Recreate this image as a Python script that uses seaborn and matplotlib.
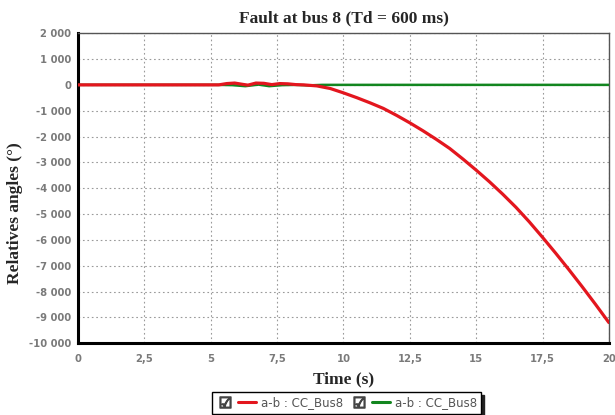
import matplotlib
matplotlib.use("Agg")
import matplotlib.pyplot as plt
from matplotlib.lines import Line2D
from matplotlib.legend_handler import HandlerTuple
import seaborn as sns
import pandas as pd

# Relative rotor angle a-b (deg) for the two simulation cases, fault at bus 8
time_red = [0, 5.3, 5.6, 5.9, 6.2, 6.4, 6.7, 7.0, 7.3, 7.6, 7.9, 8.2, 8.5,
            9.0, 9.5, 10.0, 10.5, 11.0, 11.5, 12.0, 12.5, 13.0, 13.5, 14.0,
            14.5, 15.0, 15.5, 16.0, 16.5, 17.0, 17.5, 18.0, 18.5, 19.0,
            19.5, 20.0]
angle_red = [0, 0, 50, 70, 20, -10, 70, 60, 10, 50, 40, 10, 0,
             -40, -140, -310, -495, -695, -910, -1180, -1470, -1780, -2110,
             -2460, -2870, -3300, -3750, -4230, -4740, -5300, -5900, -6520,
             -7160, -7820, -8500, -9200]

time_green = [0, 5.3, 5.8, 6.3, 6.8, 7.2, 7.7, 8.2, 8.7, 9.2, 20.0]
angle_green = [0, 0, -10, -50, 10, -50, -10, 0, -20, 0, 0]

x_ticks = [0, 2.5, 5, 7.5, 10, 12.5, 15, 17.5, 20]
x_tick_labels = ["0", "2,5", "5", "7,5", "10", "12,5", "15", "17,5", "20"]
y_ticks = [2000, 1000, 0, -1000, -2000, -3000, -4000, -5000, -6000,
           -7000, -8000, -9000, -10000]
y_tick_labels = ["2 000", "1 000", "0", "-1 000", "-2 000", "-3 000",
                 "-4 000", "-5 000", "-6 000", "-7 000", "-8 000",
                 "-9 000", "-10 000"]

series_label = "a-b : CC_Bus8"
red = "#e3161e"
green = "#12861f"

sns.set_style("white")
plt.rcParams["font.family"] = ["DejaVu Sans"]

fig = plt.figure(figsize=(6.15, 4.15), dpi=100)
ax = fig.add_axes([0.127, 0.173, 0.863, 0.747])

df_red = pd.DataFrame({"t": time_red, "angle": angle_red})
df_green = pd.DataFrame({"t": time_green, "angle": angle_green})

sns.lineplot(data=df_green, x="t", y="angle", ax=ax, color=green,
             linewidth=1.8, zorder=3)
sns.lineplot(data=df_red, x="t", y="angle", ax=ax, color=red,
             linewidth=2.3, zorder=4)

ax.set_xlim(0, 20)
ax.set_ylim(-10000, 2000)
ax.set_xticks(x_ticks)
ax.set_xticklabels(x_tick_labels)
ax.set_yticks(y_ticks)
ax.set_yticklabels(y_tick_labels)
ax.tick_params(axis="both", labelsize=7.2, labelcolor="#7a7a7a", length=0)
ax.tick_params(axis="y", pad=5)
ax.tick_params(axis="x", pad=8)
for lab in ax.get_xticklabels() + ax.get_yticklabels():
    lab.set_fontweight("bold")

ax.grid(True, color="#9a9a9a", linestyle=(0, (1.5, 2.5)), linewidth=0.8)
ax.set_axisbelow(True)

for side in ("left", "bottom"):
    ax.spines[side].set_color("black")
    ax.spines[side].set_linewidth(2.2)
for side in ("top", "right"):
    ax.spines[side].set_color("#555555")
    ax.spines[side].set_linewidth(1.0)

serif = ["Liberation Serif", "DejaVu Serif"]
ax.set_title("Fault at bus 8 (Td = 600 ms)", fontsize=12.5, fontweight="bold",
             family=serif, pad=8)
ax.set_xlabel("Time (s)", fontsize=12.5, fontweight="bold", family=serif,
              labelpad=5)
ax.set_ylabel("Relatives angles (°)", fontsize=12.5, fontweight="bold",
              family=serif)
ax.yaxis.set_label_coords(-0.103, 0.42)

check = Line2D([], [], linestyle="none", marker="$\u2611$", color="#444444",
               markersize=8)
h_red = Line2D([], [], color=red, linewidth=2.2)
h_green = Line2D([], [], color=green, linewidth=2.2)
leg = fig.legend([(check, h_red), (check, h_green)],
                 [series_label, series_label],
                 handler_map={tuple: HandlerTuple(ndivide=None, pad=0.4)},
                 ncol=2, loc="center", bbox_to_anchor=(0.563, 0.029),
                 fontsize=8.5, frameon=True, fancybox=False,
                 shadow={"color": "#222222", "alpha": 1.0},
                 handlelength=3.4, handletextpad=0.4, columnspacing=0.6,
                 borderpad=0.35, labelcolor="#555555")
leg.get_frame().set_edgecolor("black")
leg.get_frame().set_linewidth(1.0)

fig.savefig("out.png", dpi=100)
